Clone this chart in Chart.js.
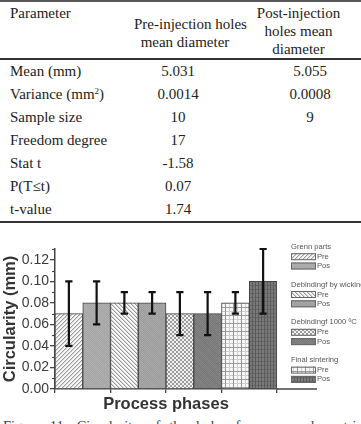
<!DOCTYPE html>
<html><head><meta charset="utf-8">
<script src="https://cdn.jsdelivr.net/npm/chart.js@4.4.1/dist/chart.umd.min.js"></script>
<style>
html,body{margin:0;padding:0;background:#fff;}
body{width:361px;height:424px;overflow:hidden;position:relative;}
#tbl{position:absolute;left:0;top:0;width:361px;border-collapse:separate;border-spacing:0;table-layout:fixed;
  font-family:'Liberation Serif','Times New Roman',serif;font-size:15px;color:#222;}
#tbl th{font-weight:normal;vertical-align:top;line-height:18px;padding:2px 0 0 0;white-space:nowrap;
  border-top:2px solid #5a5a5a;border-bottom:2px solid #333;}
#tbl th.c1{text-align:left;padding-left:10px;}
#tbl th.c2{text-align:center;padding-top:13px;padding-left:14px;}
#tbl th.c3{text-align:center;}
#tbl td{line-height:23px;padding:0;white-space:nowrap;}
#tbl td.c1{text-align:left;padding-left:10px;}
#tbl td.c2{text-align:center;}
#tbl td.c3{text-align:center;padding-left:23px;}
#tbl tbody tr:last-child td{border-bottom:2px solid #333;}
#tbl sup{font-size:9px;line-height:0;vertical-align:5px;}
#wrap{position:absolute;left:0;top:225px;width:361px;height:190px;}
#cap{position:absolute;left:3px;top:418.5px;width:400px;font-family:'Liberation Serif','Times New Roman',serif;
  font-size:14.5px;line-height:15px;color:#444;text-align:justify;text-align-last:justify;white-space:normal;}
</style>
</head>
<body>
<table id="tbl">
<colgroup><col style="width:120px"><col style="width:116px"><col style="width:125px"></colgroup>
<thead><tr><th class="c1" id="h1"></th><th class="c2" id="h2"></th><th class="c3" id="h3"></th></tr></thead>
<tbody id="tb"></tbody>
</table>
<div id="wrap"><canvas id="c"></canvas></div>
<div id="cap">Figure 11: Circularity of the holes for pre- and post-injection</div>
<script>
// ---- table data ----
const tableHeaders = ['Parameter', 'Pre-injection holes\nmean diameter', 'Post-injection\nholes mean\ndiameter'];
const tableParams = ['Mean (mm)', 'Variance (mm²)', 'Sample size', 'Freedom degree', 'Stat t', 'P(T≤t)', 't-value'];
const preColumn = ['5.031', '0.0014', '10', '17', '-1.58', '0.07', '1.74'];
const postColumn = ['5.055', '0.0008', '9', '', '', '', ''];

// ---- chart data ----
const phases = ['Grenn parts', 'Debindingf by wicking', 'Debindingf 1000 ºC', 'Final sintering'];
const seriesNames = ['Pre', 'Pos'];
const preMean = [0.07, 0.08, 0.07, 0.08];
const preLow  = [0.04, 0.07, 0.05, 0.07];
const preHigh = [0.10, 0.09, 0.09, 0.09];
const posMean = [0.08, 0.08, 0.07, 0.10];
const posLow  = [0.06, 0.07, 0.05, 0.07];
const posHigh = [0.10, 0.09, 0.09, 0.13];
const yTitle = 'Circularity (mm)';
const xTitle = 'Process phases';

// build table
function esc(s){return s.replace(/&/g,'&amp;').replace(/</g,'&lt;');}
document.getElementById('h1').innerHTML = esc(tableHeaders[0]);
document.getElementById('h2').innerHTML = esc(tableHeaders[1]).replace(/\n/g,'<br>');
document.getElementById('h3').innerHTML = esc(tableHeaders[2]).replace(/\n/g,'<br>');
const tb = document.getElementById('tb');
tableParams.forEach((p,i)=>{
  const tr = document.createElement('tr');
  tr.innerHTML = '<td class="c1">'+esc(p).replace('²','<sup>2</sup>')+'</td><td class="c2">'+esc(preColumn[i])+'</td><td class="c3">'+esc(postColumn[i])+'</td>';
  tb.appendChild(tr);
});

// patterns
const canvas = document.getElementById('c');
const ctx0 = canvas.getContext('2d');
function tile(w,h,fn){
  const c=document.createElement('canvas'); c.width=w; c.height=h;
  const t=c.getContext('2d'); const img=t.createImageData(w,h);
  for(let y=0;y<h;y++)for(let x=0;x<w;x++){
    const g=Math.max(0,Math.min(255,Math.round(fn(x,y)))); const i=(y*w+x)*4;
    img.data[i]=img.data[i+1]=img.data[i+2]=g; img.data[i+3]=255;
  }
  t.putImageData(img,0,0);
  return ctx0.createPattern(c,'repeat');
}
const nz=(x,y)=>[0,6,-5,3,-3,5,-6,2,-2,4][(x*7+y*3)%10];
const prePatterns = [
  tile(4,4,(x,y)=>{const m=(x+y)%4; return m===0?155:(m===1?212:248);}),
  tile(4,4,(x,y)=>{const m=(x-y+8)%4; return m===0?155:(m===1?212:248);}),
  tile(4,4,(x,y)=>(((x>>1)+(y>>1))%2)?155:240),
  tile(8,8,(x,y)=>{let g=247; if(x===1)g=150; else if(x===5)g=205; if(y===2)g=Math.min(g,155); else if(y===6)g=Math.min(g,205); return g;})
];
const posPatterns = [
  tile(10,10,(x,y)=>170+nz(x,y)),
  tile(10,10,(x,y)=>162+nz(x,y)),
  tile(10,10,(x,y)=>125+1.5*nz(x,y)),
  tile(3,4,(x,y)=>x===0?90:(y===0?102:122))
];
const patterns = [prePatterns, posPatterns];
const errs = [[preLow, preHigh],[posLow, posHigh]];

const errorBars = {
  id:'errorBars',
  afterDatasetsDraw(chart){
    const ctx=chart.ctx, ys=chart.scales.y;
    ctx.save(); ctx.strokeStyle='#111'; ctx.lineWidth=2.2; ctx.lineCap='butt';
    chart.data.datasets.forEach((ds,i)=>{
      chart.getDatasetMeta(i).data.forEach((bar,j)=>{
        const x=bar.x, y1=ys.getPixelForValue(errs[i][0][j]), y2=ys.getPixelForValue(errs[i][1][j]);
        ctx.beginPath(); ctx.moveTo(x,y1); ctx.lineTo(x,y2);
        ctx.moveTo(x-3.6,y1); ctx.lineTo(x+3.6,y1);
        ctx.moveTo(x-3.6,y2); ctx.lineTo(x+3.6,y2); ctx.stroke();
      });
    });
    ctx.restore();
  }
};
const extras = {
  id:'extras',
  afterDraw(chart){
    const ctx=chart.ctx, ca=chart.chartArea, ys=chart.scales.y;
    ctx.save();
    // minor y ticks
    ctx.strokeStyle='#444'; ctx.lineWidth=1.2;
    for(let v=ys.min+0.01; v<=ys.max+1e-9; v+=0.02){
      const y=Math.round(ys.getPixelForValue(v))+0.5;
      ctx.beginPath(); ctx.moveTo(ca.left-3,y); ctx.lineTo(ca.left,y); ctx.stroke();
    }
    // legend
    const lx=ca.right+14;
    // extend x axis line under legend
    ctx.lineWidth=1.5; ctx.beginPath(); ctx.moveTo(ca.right,ca.bottom); ctx.lineTo(lx+26,ca.bottom); ctx.stroke();
    ctx.font='7.6px "Liberation Sans", Arial, sans-serif'; ctx.textBaseline='middle'; ctx.textAlign='left';
    phases.forEach((name,g)=>{
      const hy=ca.top-2.3+g*37.8;
      ctx.fillStyle='#555'; ctx.fillText(name,lx,hy);
      [0,1].forEach(s=>{
        const sy=hy+10+s*9.3;
        ctx.fillStyle=patterns[s][g]; ctx.fillRect(lx,sy-3.5,25,7);
        ctx.strokeStyle='#666'; ctx.lineWidth=1; ctx.strokeRect(lx+0.5,sy-3,24,6);
        ctx.fillStyle='#555'; ctx.fillText(seriesNames[s],lx+26,sy);
      });
    });
    ctx.restore();
  }
};

const fam='"Liberation Sans", Arial, sans-serif';
new Chart(canvas,{
  type:'bar',
  data:{
    labels:phases,
    datasets:[
      {label:seriesNames[0], data:preMean, backgroundColor:prePatterns, borderColor:'#444', borderWidth:1},
      {label:seriesNames[1], data:posMean, backgroundColor:posPatterns, borderColor:'#444', borderWidth:1}
    ]
  },
  options:{
    responsive:true, maintainAspectRatio:false, animation:false,
    datasets:{bar:{barPercentage:1, categoryPercentage:1}},
    layout:{padding:{top:24,right:84,bottom:0,left:0}},
    plugins:{legend:{display:false}, tooltip:{enabled:false}},
    scales:{
      x:{type:'category', offset:true,
        grid:{offset:true, drawOnChartArea:false, drawTicks:true, tickLength:4, color:'#444', lineWidth:1.3},
        border:{display:true, color:'#444', width:1.5},
        ticks:{display:false},
        title:{display:true, text:xTitle, color:'#333', font:{family:fam, size:16.5, weight:'bold'}, padding:{top:0,bottom:1}},
        afterFit(s){s.height=26;}
      },
      y:{min:0, max:0.13,
        ticks:{stepSize:0.02, includeBounds:false, padding:1, color:'#3c3c3c', font:{family:fam, size:14}, callback:v=>Number(v).toFixed(2)},
        grid:{drawOnChartArea:false, drawTicks:true, tickLength:5, color:'#444', lineWidth:1.3},
        border:{display:true, color:'#444', width:1.5},
        title:{display:true, text:yTitle, color:'#333', font:{family:fam, size:16.5, weight:'bold'}, padding:{top:0.5,bottom:0}},
        afterFit(s){s.width=55;}
      }
    }
  },
  plugins:[errorBars, extras]
});
</script>
</body></html>
